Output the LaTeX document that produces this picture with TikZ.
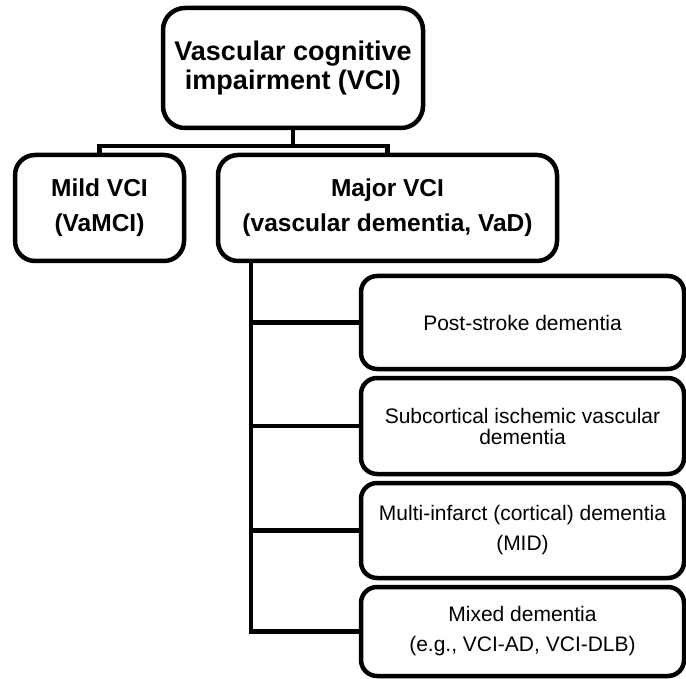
\documentclass[tikz,border=0pt]{standalone}
\usepackage{fontspec}
\setmainfont{Liberation Sans}
\begin{document}
\begin{tikzpicture}[x=1pt,y=-1pt,
  box/.style={draw=black,line width=4.5pt,rounded corners=#1,inner sep=0pt,align=center,fill=white},
  box/.default=20pt,
  toptext/.style={font=\fontsize{27}{29}\selectfont\bfseries},
  midtext/.style={font=\fontsize{24.5}{35}\selectfont\bfseries},
  subtext/.style={font=\fontsize{21}{30}\selectfont},
  conn/.style={draw=black,line width=4.5pt}]
\useasboundingbox[fill=white] (0,0) rectangle (686,679);
% boxes
\node[box=22pt,toptext,minimum width=260pt,minimum height=120pt] (top) at (293,68) {Vascular cognitive\\impairment (VCI)};
\node[box,midtext,minimum width=169pt,minimum height=106pt] (mild) at (99.5,208) {Mild VCI\\(VaMCI)};
\node[box,midtext,minimum width=339pt,minimum height=106pt] (major) at (387.5,208) {Major VCI\\(vascular dementia, VaD)};
\node[box=16pt,subtext,minimum width=323pt,minimum height=93pt] (ps) at (522.5,322.5) {Post-stroke dementia};
\node[box=16pt,subtext,minimum width=323pt,minimum height=96pt,font=\fontsize{21}{21}\selectfont] (sub) at (522.5,426) {Subcortical ischemic vascular\\dementia};
\node[box=16pt,subtext,minimum width=323pt,minimum height=95pt] (mid) at (522.5,530.5) {Multi-infarct (cortical) dementia\\(MID)};
\node[box=16pt,subtext,minimum width=323pt,minimum height=89pt] (mix) at (522.5,631.5) {Mixed dementia\\(e.g., VCI-AD, VCI-DLB)};
% connectors
\coordinate (j) at (293,146);
\coordinate (tx) at (251,0);
\draw[conn] (top.south) -- (j);
\draw[conn] (mild.north) -- (mild.north |- j) -- (major.north |- j) -- (major.north);
\draw[conn] (tx |- major.south) -- (tx |- mix.west) -- (mix.west);
\draw[conn] (tx |- ps.west) -- (ps.west);
\draw[conn] (tx |- sub.west) -- (sub.west);
\draw[conn] (tx |- mid.west) -- (mid.west);
\end{tikzpicture}
\end{document}
